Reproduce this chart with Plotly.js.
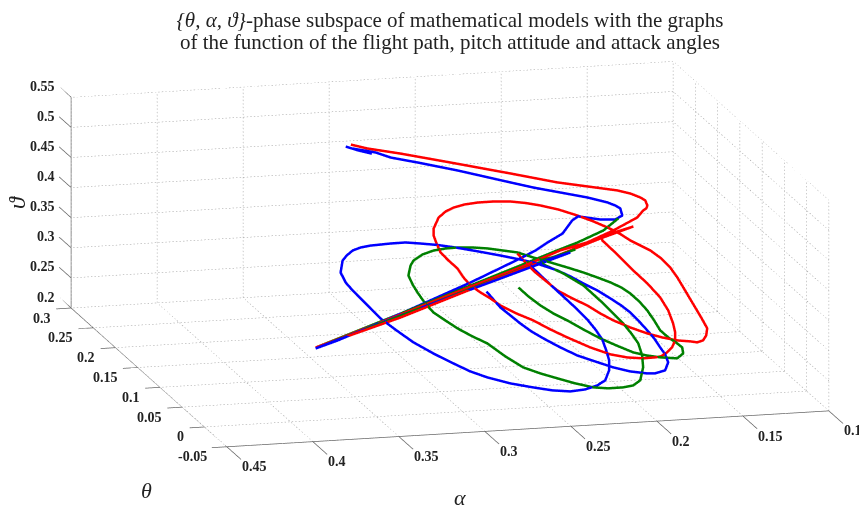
<!DOCTYPE html>
<html><head><meta charset="utf-8">
<script src="https://cdn.plot.ly/plotly-3.0.1.min.js"></script>
<style>html,body{margin:0;padding:0;background:#fff}#c{width:859px;height:506px}</style></head>
<body><div id="c"></div>
<script>
const alphaTicks=[0.1,0.15,0.2,0.25,0.3,0.35,0.4,0.45];
const thetaTicks=[-0.05,0,0.05,0.1,0.15,0.2,0.25,0.3];
const varthetaTicks=[0.2,0.25,0.3,0.35,0.4,0.45,0.5,0.55];

const blueAlpha=[.3171,.3096,.3018,.3130,.2989,.2904,.2739,.2496,.2177,.2039,.1709,.1590,.1546,.1522,.1529,.1588,.1688,.1826,.1878,.1982,.2109,.2213,.2338,.2742,.3119,.3462,.3802,.3973,.3308,.2530,.1986,.2177,.2292,.2273,
.2203,.2156,.2109,.2073,.2048,.2032,.2038,.2048,.2078,.2134,.2202,.2294,.2400,.2517,.2635,.2776,.2912,.3008,.3097,.3201,.3301,.3379,.3450,.3487,.3524,.3553,.3576,.3580,.3531,.3489,.3434,.3372,.3299,.3160,.3057,.2960,.2851,.2738,.2597,.2462,.2359,.2263,.2127,.2057,.1991,.1919,.1856,.1804,.1765,.1732,.1704,.1682,.1669,.1656,.1660,.1704,.1780,.1833,.1941,.2042,.2144,.2246,.2336,.2422,.2481,.2532,.2574,.2617,.2662];
const blueTheta=[.1965,.1963,.1971,.1966,.1997,.1989,.2022,.2064,.2103,.2121,.2187,.2197,.2188,.2171,.2097,.2027,.1977,.1939,.1873,.1689,.1536,.1404,.1262,.0819,.0420,.0058,-.0292,-.0458,.0205,.0965,.1498,.1322,.1214,.1174,
.1038,.0952,.0865,.0784,.0695,.0604,.0491,.0386,.0271,.0143,.0058,-.0028,-.0101,-.0149,-.0179,-.0209,-.0217,-.0205,-.0170,-.0122,-.0061,.0020,.0104,.0186,.0268,.0333,.0401,.0500,.0644,.0715,.0793,.0854,.0910,.1000,.1062,.1100,.1140,.1171,.1202,.1229,.1246,.1259,.1248,.1222,.1184,.1151,.1103,.1058,.1008,.0934,.0858,.0789,.0706,.0642,.0560,.0458,.0390,.0363,.0329,.0319,.0327,.0336,.0372,.0419,.0459,.0514,.0573,.0631,.0768];
const blueVartheta=[.5136,.5059,.4989,.5096,.4986,.4893,.4761,.4560,.4280,.4160,.3896,.3787,.3734,.3693,.3626,.3615,.3665,.3765,.3751,.3671,.3645,.3617,.3600,.3561,.3539,.3520,.3510,.3515,.3513,.3495,.3484,.3499,.3506,.3447,
.3241,.3108,.2974,.2857,.2743,.2636,.2529,.2434,.2349,.2277,.2260,.2266,.2299,.2368,.2456,.2567,.2695,.2803,.2927,.3079,.3240,.3399,.3554,.3673,.3792,.3886,.3977,.4080,.4175,.4204,.4227,.4226,.4209,.4160,.4119,.4060,.3991,.3909,.3799,.3691,.3605,.3522,.3375,.3279,.3175,.3070,.2959,.2862,.2773,.2666,.2562,.2471,.2375,.2298,.2220,.2162,.2170,.2196,.2270,.2361,.2471,.2582,.2708,.2841,.2940,.3046,.3147,.3248,.3430];

const redAlpha=[.3131,.3030,.2825,.2518,.2151,.1864,.1676,.1488,.1410,.1355,.1331,.1332,.1348,.1374,.1435,.1633,.1843,.2047,.2365,.2911,.3462,.3970,.3314,.2527,.2059,.1744,.1488,.1731,.1737,.1679,.1620,.1564,.1520,.1505,.1511,.1524,.1548,.1589,.1637,.1689,.1732,.1815,.1919,.2023,.2136,.2259,.2348,.2436,.2528,.2611,.2657,.2705,.2751,.2774,.2788,.2824,.2853,.2853,.2849,.2828,.2762,.2698,.2632,.2550,.2457,.2348,.2234,.2138,.2046,.1938,.1829,.1745,.1664,.1602,.1550,.1446,.1397,.1364,.1346,.1336,.1326,.1316,.1306,.1298,.1326,.1361,.1407,.1451,.1534,.1625,.1713,.1809,.1902,.1968,.2031,.2110,.2186,.2232,.2279,.2313,.2343];
const redTheta=[.2005,.2016,.2068,.2132,.2206,.2260,.2314,.2368,.2376,.2364,.2346,.2295,.2258,.2225,.2124,.1895,.1670,.1488,.1158,.0614,.0058,-.0447,.0182,.0976,.1442,.1759,.2007,.1785,.1743,.1632,.1501,.1398,.1281,.1158,.1025,.0929,.0837,.0746,.0672,.0606,.0574,.0523,.0480,.0459,.0472,.0510,.0545,.0592,.0616,.0654,.0702,.0737,.0784,.0853,.0937,.0998,.1064,.1153,.1235,.1316,.1459,.1551,.1624,.1696,.1762,.1827,.1884,.1917,.1938,.1952,.1946,.1933,.1909,.1880,.1836,.1788,.1733,.1659,.1567,.1472,.1377,.1282,.1187,.1082,.0997,.0930,.0887,.0875,.0843,.0827,.0823,.0835,.0860,.0896,.0945,.0976,.1018,.1084,.1151,.1224,.1309];
const redVartheta=[.5136,.5046,.4893,.4650,.4357,.4124,.3990,.3856,.3786,.3719,.3677,.3627,.3606,.3599,.3559,.3528,.3513,.3535,.3523,.3525,.3520,.3523,.3496,.3503,.3501,.3503,.3495,.3516,.3480,.3311,.3121,.2962,.2801,.2663,.2536,.2453,.2385,.2335,.2309,.2295,.2306,.2338,.2399,.2482,.2608,.2769,.2893,.3028,.3144,.3265,.3359,.3442,.3535,.3627,.3725,.3822,.3917,.4006,.4084,.4144,.4221,.4249,.4256,.4246,.4219,.4175,.4118,.4055,.3984,.3890,.3775,.3678,.3573,.3482,.3386,.3234,.3130,.3023,.2913,.2808,.2703,.2598,.2493,.2380,.2323,.2291,.2294,.2326,.2377,.2452,.2536,.2644,.2762,.2864,.2976,.3086,.3204,.3316,.3430,.3537,.3652];

const greenAlpha=[.1565,.1700,.1909,.2067,.2359,.2908,.3459,.3970,.3465,.2917,.2371,.1944,.2098,.2210,.2202,.2096,.2046,.1997,.1958,.1918,.1881,.1845,.1820,.1803,.1813,.1842,.1900,.1962,.2035,.2138,.2235,.2343,.2448,.2547,.2643,.2730,.2811,.2890,.2966,.3023,.3079,.3109,.3126,.3135,.3136,.3092,.3057,.2979,.2894,.2808,.2725,.2625,.2528,.2434,.2340,.2248,.2149,.2051,.1959,.1880,.1808,.1750,.1708,.1672,.1645,.1629,.1618,.1585,.1543,.1522,.1533,.1588,.1699,.1786,.1864,.1956,.2042,.2128,.2209,.2281,.2344,.2397,.2437];
const greenTheta=[.2049,.1861,.1636,.1478,.1181,.0625,.0069,-.0447,.0046,.0591,.1135,.1549,.1402,.1306,.1270,.1233,.1197,.1161,.1092,.1021,.0940,.0858,.0770,.0678,.0553,.0419,.0260,.0178,.0122,.0061,.0022,.0008,.0006,.0006,.0018,.0085,.0174,.0205,.0247,.0298,.0350,.0435,.0527,.0602,.0692,.0814,.0882,.0981,.1063,.1126,.1178,.1228,.1267,.1294,.1321,.1316,.1316,.1315,.1311,.1300,.1287,.1265,.1226,.1164,.1088,.0996,.0902,.0847,.0808,.0779,.0713,.0636,.0591,.0567,.0558,.0582,.0609,.0655,.0706,.0739,.0788,.0852,.0921];
const greenVartheta=[.3614,.3561,.3545,.3545,.3540,.3533,.3528,.3523,.3511,.3508,.3506,.3493,.3500,.3516,.3472,.3329,.3243,.3158,.3050,.2939,.2821,.2703,.2590,.2481,.2366,.2261,.2160,.2140,.2157,.2199,.2257,.2351,.2454,.2553,.2661,.2815,.2985,.3095,.3213,.3321,.3429,.3544,.3653,.3737,.3828,.3906,.3939,.3960,.3957,.3934,.3903,.3853,.3795,.3728,.3661,.3564,.3465,.3366,.3270,.3180,.3095,.3015,.2934,.2836,.2733,.2625,.2520,.2432,.2351,.2301,.2246,.2224,.2290,.2353,.2422,.2538,.2651,.2783,.2915,.3020,.3132,.3249,.3358];

const aMin=alphaTicks[0],aMax=alphaTicks[7],tMin=thetaTicks[0],tMax=thetaTicks[7],zMin=varthetaTicks[0],zMax=varthetaTicks[7];
const gx=[],gy=[],gz=[];
function dots(a,b,c,d,e,f,n){for(let i=0;i<n;i++){const s=i/n,r=(i+0.4)/n;
 gx.push(a+(d-a)*s,a+(d-a)*r,null);gy.push(b+(e-b)*s,b+(e-b)*r,null);gz.push(c+(f-c)*s,c+(f-c)*r,null);}}
const nLong=170,nShort=60;
alphaTicks.forEach(a=>{dots(a,tMin,zMin,a,tMax,zMin,nShort);dots(a,tMax,zMin,a,tMax,zMax,nShort);});
thetaTicks.forEach(t=>{dots(aMin,t,zMin,aMax,t,zMin,nLong);dots(aMin,t,zMin,aMin,t,zMax,nShort);});
varthetaTicks.forEach(z=>{dots(aMin,tMin,z,aMin,tMax,z,nShort);dots(aMin,tMax,z,aMax,tMax,z,nLong);});

// axis lines and outward tick marks
const lx=[],ly=[],lz=[];
function line(a,b,c,d,e,f){lx.push(a,d,null);ly.push(b,e,null);lz.push(c,f,null);}
line(aMin,tMin,zMin,aMax,tMin,zMin);line(aMax,tMin,zMin,aMax,tMax,zMin);line(aMax,tMax,zMin,aMax,tMax,zMax);
const tickAlpha=0.032,tickTheta=0.0087,tickZ=0.027;
alphaTicks.forEach(a=>line(a,tMin,zMin,a,tMin-tickAlpha,zMin));
thetaTicks.forEach(t=>line(aMax,t,zMin,aMax+tickTheta,t,zMin));
varthetaTicks.forEach(z=>line(aMax,tMax,z,aMax,tMax+tickZ,z));

function curve(x,y,z,color){return {type:'scatter3d',mode:'lines',x:x,y:y,z:z,line:{color:color,width:5},hoverinfo:'skip',showlegend:false};}
const data=[
 {type:'scatter3d',mode:'lines',x:gx,y:gy,z:gz,line:{color:'#999999',width:1},hoverinfo:'skip',showlegend:false,connectgaps:false},
 {type:'scatter3d',mode:'lines',x:lx,y:ly,z:lz,line:{color:'#666666',width:1.5},hoverinfo:'skip',showlegend:false,connectgaps:false},
 curve(blueAlpha,blueTheta,blueVartheta,'#0000ff'),
 curve(greenAlpha,greenTheta,greenVartheta,'#008000'),
 curve(redAlpha,redTheta,redVartheta,'#ff0000')
];
function ax(vals,range){return {range:range,tickvals:vals,showticklabels:false,showgrid:false,zeroline:false,showbackground:false,showline:false,ticks:'',showspikes:false,title:{text:''}};}
const serif='"Liberation Serif",serif';
const tickFont={family:serif,size:14,color:'#222'};
function lab(x,y,z,v,anchor,dx,dy){return {x:x,y:y,z:z,text:'<b>'+v+'</b>',showarrow:false,xanchor:anchor,yanchor:'middle',xshift:dx,yshift:dy,font:tickFont};}
const sceneAnn=[].concat(
 alphaTicks.map(a=>lab(a,tMin,zMin,a,'left',13,-20)),
 thetaTicks.map(t=>lab(aMax,t,zMin,t,'right',-18,-10)),
 varthetaTicks.map(z=>lab(aMax,tMax,z,z,'right',-14,11))
);
function note(x,y,text,size,extra){return Object.assign({xref:'paper',yref:'paper',x:x/859,y:1-y/506,text:text,showarrow:false,xanchor:'center',yanchor:'middle',font:{family:serif,size:size,color:'#222'}},extra||{});}
const layout={
 width:859,height:506,margin:{l:0,r:0,t:0,b:0},paper_bgcolor:'#fff',showlegend:false,
 title:{text:'<i>{θ, α, ϑ}</i>-phase subspace of mathematical models with the graphs',font:{family:serif,size:21,color:'#222'},x:450/859,xanchor:'center',y:1-20/506,yanchor:'middle'},
 scene:{domain:{x:[0.0298,1],y:[0,1]},
  xaxis:ax(alphaTicks,[0.46,0.1]),yaxis:ax(thetaTicks,[-0.085,0.33]),zaxis:ax(varthetaTicks,[0.2,0.55]),
  aspectmode:'manual',aspectratio:{x:2.528,y:2.914,z:0.856},
  camera:{projection:{type:'orthographic'},center:{x:0,y:0,z:0.0105},up:{x:0,y:0,z:1},eye:{x:-0.4874,y:-1.884,z:0.4715}},
  annotations:sceneAnn},
 annotations:[
  note(450,42,'of the function of the flight path, pitch attitude and attack angles',21),
  note(460,497,'<i>α</i>',22),
  note(146,490,'<i>θ</i>',22),
  note(17,203,'<i>ϑ</i>',24,{textangle:-90})
 ]
};
Plotly.newPlot('c',data,layout,{displayModeBar:false});
</script></body></html>
